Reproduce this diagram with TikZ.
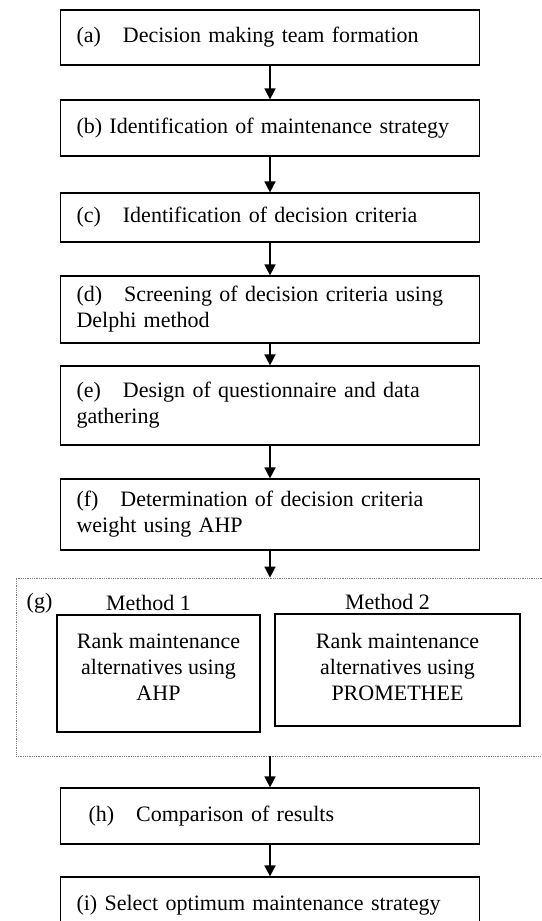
\documentclass[tikz,border=0pt]{standalone}
\usepackage{fontspec}
\setmainfont{Liberation Serif}
\usetikzlibrary{arrows.meta}
\tikzset{stage/.style={draw,line width=1.2pt,minimum width=419pt,text width=387pt,inner xsep=16pt,align=left},
         method/.style={draw,line width=1.2pt,align=center},
         flow/.style={->,line width=1.6pt}}

\begin{document}
\begin{tikzpicture}[x=1pt,y=-1pt,font=\fontsize{22}{26}\selectfont,>={Triangle[length=11pt,width=11pt]}]
        \useasboundingbox (0,0) rectangle (541,921);
        \node[stage, minimum height=55pt](a)at(270,37.5){(a)\quad Decision making team formation};
        \node[stage, minimum height=56pt](b)at(270,128){\makebox[382pt][s]{(b) Identification of maintenance strategy}};
        \node[stage, minimum height=49pt](c)at(270,217.5){(c)\quad Identification of decision criteria};
        \node[stage, minimum height=67pt](d)at(270,309.5){(d)\quad Screening of decision criteria using\\Delphi method};
        \node[stage, minimum height=79pt](e)at(270,405.5){(e)\quad Design of questionnaire and data\\gathering};
        \node[stage, minimum height=71pt](f)at(270,514.5){(f)\quad Determination of decision criteria\\weight using AHP};

        \node[draw, densely dotted, gray, line width=0.8pt, minimum width=544pt, minimum height=178pt](grp)at(288,667){};
        \node(glabel)at(39.5,603){(g)};
        \node[method, minimum width=203pt, minimum height=117pt, text depth=13pt,
              label={[xshift=-10pt]above:Method 1}](m1)at(158.5,673.5){Rank maintenance\\alternatives using\\AHP};
        \node[method, minimum width=245pt, minimum height=112pt, text depth=6pt,
              label={[xshift=-10pt]above:Method 2}](m2)at(397.5,670){Rank maintenance\\alternatives using\\PROMETHEE};

        \node[stage, minimum height=56pt](h)at(270,816){\hspace{12pt}(h)\quad Comparison of results};
        \node[stage, minimum height=56pt](i)at(270,905){(i) Select optimum maintenance strategy};

        \draw[flow](a)--(b);
        \draw[flow](b)--(c);
        \draw[flow](c)--(d);
        \draw[flow](d)--(e);
        \draw[flow](e)--(f);
        \draw[flow](f)--(f |- grp.north);
        \draw[flow](grp.south -| h)--(h);
        \draw[flow](h)--(i);
    \end{tikzpicture}
\end{document}
